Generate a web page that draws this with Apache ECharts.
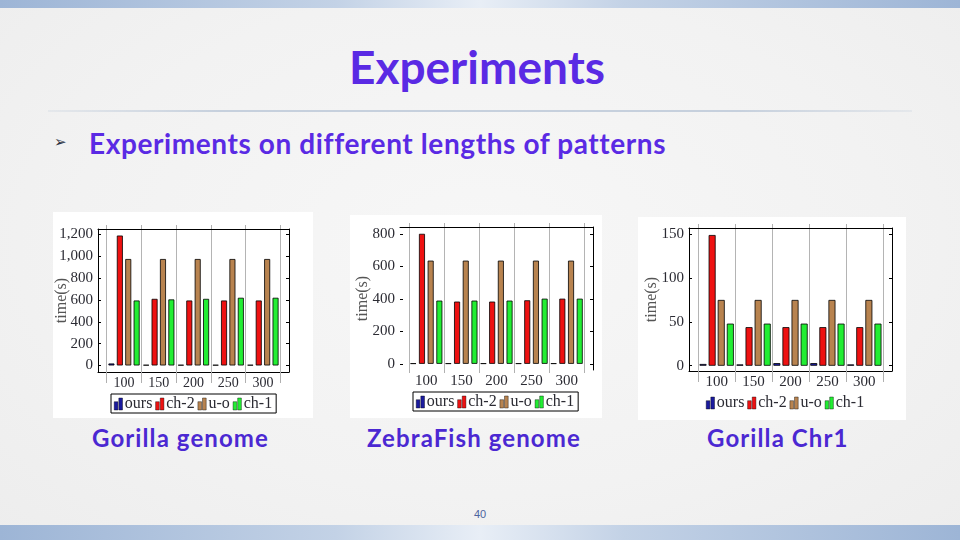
<!DOCTYPE html>
<html>
<head>
<meta charset="utf-8">
<script src="https://cdn.jsdelivr.net/npm/echarts@6/dist/echarts.min.js"></script>
<style>
  html, body { margin: 0; padding: 0; }
  body {
    width: 960px; height: 540px; overflow: hidden; position: relative;
    background: radial-gradient(ellipse at 50% 45%, #f7f7f7 0%, #f2f2f2 60%, #ededed 100%);
    font-family: "Lato", "Open Sans", sans-serif;
  }
  .band { position: absolute; left: 0; width: 960px;
    background: linear-gradient(90deg, #9db5d6 0%, #c3d2e6 35%, #e8eef6 50%, #c3d2e6 65%, #9db5d6 100%); }
  .rule { position: absolute; left: 48px; top: 110px; width: 864px; height: 2px;
    background: linear-gradient(90deg, rgba(200,210,222,0.3), #c6d0dd 20%, #c6d0dd 80%, rgba(200,210,222,0.3)); }
  .title { position: absolute; left: 0; width: 954px; top: 38px; text-align: center;
    font-size: 46px; font-weight: bold; color: #5a2ae4; line-height: 58px; }
  .bullet { position: absolute; left: 54px; top: 133px; font-family: "DejaVu Sans"; font-size: 15px; color: #2a3040; }
  .sub { position: absolute; left: 89px; top: 125px; font-size: 28px; font-weight: bold; color: #5a2ae4;
    line-height: 36px; letter-spacing: 0.6px; }
  .panel { position: absolute; background: #ffffff; }
  .cap { position: absolute; top: 423px; font-size: 24px; font-weight: bold; color: #4b28d2;
    line-height: 30px; letter-spacing: 1.1px; }
  .page { position: absolute; left: 474px; top: 508px; font-size: 11px; color: #4d64a0; font-family: "Liberation Sans"; }
  #chart { position: absolute; left: 0; top: 0; width: 960px; height: 540px; }
</style>
</head>
<body>
<div class="band" style="top:0;height:8px"></div>
<div class="band" style="top:525px;height:15px"></div>
<div class="title">Experiments</div>
<div class="rule"></div>
<div class="bullet">➢</div>
<div class="sub">Experiments on different lengths of patterns</div>
<div class="panel" style="left:53px;top:212px;width:260px;height:206px"></div>
<div class="panel" style="left:350px;top:215px;width:252px;height:203px"></div>
<div class="panel" style="left:638px;top:217px;width:268px;height:203px"></div>
<div class="cap" style="left:92px">Gorilla genome</div>
<div class="cap" style="left:367px">ZebraFish genome</div>
<div class="cap" style="left:707px">Gorilla Chr1</div>
<div class="page">40</div>
<div id="chart"></div>
<script>
// 模式长度
const lengths = [100, 150, 200, 250, 300];
const bandEdges = [75, 125, 175, 225, 275, 325];
const seriesNames = ["ours", "ch-2", "u-o", "ch-1"];
const seriesColors = ["#1a1a9e", "#ee1111", "#b8834f", "#22ee33"];

// Gorilla genome
const gorillaOurs = [18, 5, 5, 5, 5];
const gorillaCh2 = [1190, 610, 595, 595, 595];
const gorillaUo = [975, 975, 975, 975, 975];
const gorillaCh1 = [595, 605, 610, 620, 620];
const gorillaTicks = [0, 200, 400, 600, 800, 1000, 1200];

// ZebraFish genome
const zebraOurs = [3, 3, 3, 3, 3];
const zebraCh2 = [800, 383, 383, 391, 401];
const zebraUo = [635, 635, 635, 635, 635];
const zebraCh1 = [389, 389, 389, 401, 401];
const zebraTicks = [0, 200, 400, 600, 800];

// Gorilla Chr1
const chr1Ours = [2, 1.5, 3, 3, 1.5];
const chr1Ch2 = [149, 44, 44, 44, 44];
const chr1Uo = [75, 75, 75, 75, 75];
const chr1Ch1 = [48, 48, 48, 48, 48];
const chr1Ticks = [0, 50, 100, 150];

const serif = "Liberation Serif";
const textColor = "#2b2b33";

const charts = [
  {
    rect: { left: 98, top: 229, width: 191, height: 143 },
    yMin: -60, yMax: 1250, ticks: gorillaTicks,
    values: [gorillaOurs, gorillaCh2, gorillaUo, gorillaCh1],
    barWidth: 6, barGap: "40%", frameAll: true, xFont: 14, nameGap: 28,
    legend: { left: 111, top: 394, border: 1 },
  },
  {
    rect: { left: 400, top: 227, width: 193, height: 143 },
    yMin: -38, yMax: 842, ticks: zebraTicks,
    values: [zebraOurs, zebraCh2, zebraUo, zebraCh1],
    barWidth: 6, barGap: "45%", frameAll: false, xFont: 15, nameGap: 29,
    legend: { left: 413, top: 392, border: 1 },
  },
  {
    rect: { left: 689, top: 228, width: 203, height: 143 },
    yMin: -6, yMax: 157, ticks: chr1Ticks,
    values: [chr1Ours, chr1Ch2, chr1Uo, chr1Ch1],
    barWidth: 7, barGap: "30%", frameAll: true, xFont: 15, nameGap: 29,
    legend: { left: 703, top: 393, border: 0 },
  },
];

const fmt = (v) => (v >= 1000 ? String(v).replace(/(\d)(\d{3})$/, "$1,$2") : String(v));

const option = {
  animation: false,
  backgroundColor: "transparent",
  grid: [],
  xAxis: [],
  yAxis: [],
  legend: [],
  series: [],
};

charts.forEach((c, i) => {
  option.grid.push(Object.assign({ containLabel: false }, c.rect));
  const frame = { show: true, onZero: false, lineStyle: { color: "#000", width: 1 } };
  option.xAxis.push(
    {
      type: "value", gridIndex: i, position: "bottom", min: 62.5, max: 337.5,
      axisLine: Object.assign({}, frame, { show: c.frameAll }),
      axisTick: { customValues: bandEdges, length: c.frameAll ? 11 : 3, lineStyle: { color: "#b0b0b0" } },
      axisLabel: { customValues: lengths, fontFamily: serif, fontSize: c.xFont, color: textColor, margin: 4 },
      splitLine: { show: true, lineStyle: { color: "#b4b4b4", width: 1 } },
    },
    {
      type: "value", gridIndex: i, position: "top", min: 62.5, max: 337.5,
      axisLine: frame,
      axisTick: { customValues: bandEdges, length: 4, lineStyle: { color: "#b0b0b0" } },
      axisLabel: { show: false },
      splitLine: { show: false },
    }
  );
  option.yAxis.push(
    {
      type: "value", gridIndex: i, position: "left", min: c.yMin, max: c.yMax,
      name: "time(s)", nameLocation: "middle", nameGap: c.nameGap, nameMoveOverlap: false,
      nameTextStyle: { fontFamily: serif, fontSize: 16, color: "#555" },
      axisLine: Object.assign({}, frame, { show: c.frameAll }),
      axisTick: { customValues: c.ticks, inside: true, length: 3, lineStyle: { color: "#000" } },
      axisLabel: { customValues: c.ticks, formatter: fmt, fontFamily: serif, fontSize: 15, color: textColor, margin: 5 },
      splitLine: { show: false },
    },
    {
      type: "value", gridIndex: i, position: "right", min: c.yMin, max: c.yMax,
      axisLine: frame,
      axisTick: { customValues: c.ticks, inside: true, length: 3, lineStyle: { color: "#000" } },
      axisLabel: { show: false },
      splitLine: { show: false },
    }
  );
  option.legend.push({
    left: c.legend.left, top: c.legend.top,
    orient: "horizontal",
    data: seriesNames,
    icon: "path://M0,4L4,4L4,13L0,13Z M5,0L9,0L9,13L5,13Z",
    itemWidth: 9, itemHeight: 12, itemGap: 3,
    itemStyle: { borderWidth: 0.4 },
    padding: [2, 4, 1, 3],
    borderColor: "#000", borderWidth: c.legend.border,
    textStyle: { fontFamily: serif, fontSize: 16, color: textColor, padding: [2, 0, 0, -3] },
    selectedMode: false,
  });
  seriesNames.forEach((name, k) => {
    option.series.push({
      name: name,
      type: "bar",
      xAxisIndex: 2 * i,
      yAxisIndex: 2 * i,
      barWidth: c.barWidth,
      barGap: c.barGap,
      silent: true,
      itemStyle: { color: seriesColors[k], borderColor: "#000", borderWidth: 0.8 },
      data: lengths.map((x, j) => [x, c.values[k][j]]),
    });
  });
});

const chart = echarts.init(document.getElementById("chart"));
chart.setOption(option);
</script>
</body>
</html>
